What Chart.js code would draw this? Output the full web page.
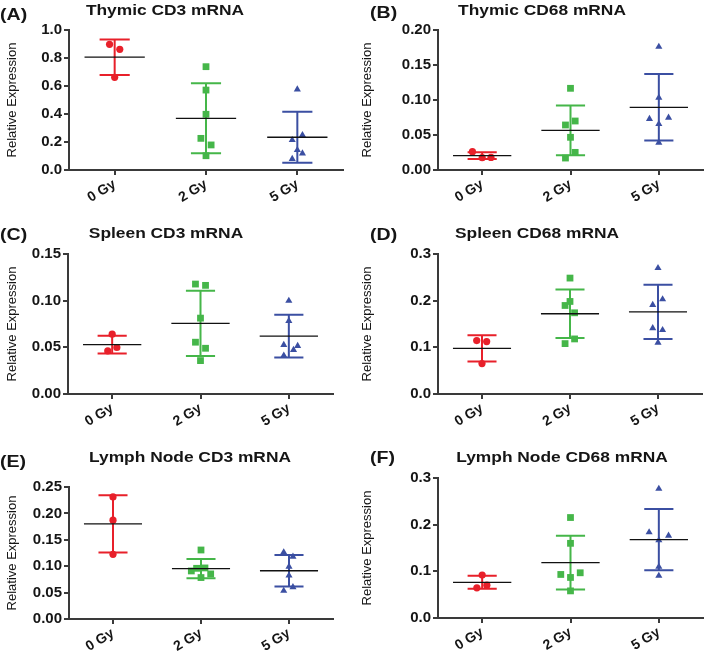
<!DOCTYPE html>
<html>
<head>
<meta charset="utf-8">
<title>Relative expression</title>
<script src="https://cdn.jsdelivr.net/npm/chart.js@4.4.0/dist/chart.umd.min.js"></script>
<style>
  body { margin: 0; background: #fff; width: 711px; height: 653px; position: relative; overflow: hidden; }
  canvas { position: absolute; }
</style>
</head>
<body>
<canvas id="chartA"></canvas>
<canvas id="chartB"></canvas>
<canvas id="chartC"></canvas>
<canvas id="chartD"></canvas>
<canvas id="chartE"></canvas>
<canvas id="chartF"></canvas>
<script>
// categories / labels
const categories = ['0 Gy', '2 Gy', '5 Gy'];
const panelLetters = ['(A)', '(B)', '(C)', '(D)', '(E)', '(F)'];
const panelTitles = ['Thymic CD3 mRNA', 'Thymic CD68 mRNA', 'Spleen CD3 mRNA',
                     'Spleen CD68 mRNA', 'Lymph Node CD3 mRNA', 'Lymph Node CD68 mRNA'];

// y axis ticks per panel
const yMax = [1.0, 0.20, 0.15, 0.3, 0.25, 0.3];
const yStep = [0.2, 0.05, 0.05, 0.1, 0.05, 0.1];
const yDecimals = [1, 2, 2, 1, 2, 1];

// individual values, one list per group (0 Gy, 2 Gy, 5 Gy)
const thymicCD3 = [
  [0.898, 0.862, 0.662],
  [0.738, 0.571, 0.398, 0.226, 0.179, 0.102],
  [0.576, 0.250, 0.214, 0.143, 0.119, 0.079]
];
const thymicCD68 = [
  [0.0262, 0.0176, 0.0180],
  [0.1167, 0.0700, 0.0643, 0.0467, 0.0252, 0.0171],
  [0.176, 0.1033, 0.0748, 0.0729, 0.0657, 0.039]
];
const spleenCD3 = [
  [0.0641, 0.0498, 0.0462],
  [0.1178, 0.1164, 0.0813, 0.0555, 0.0490, 0.0358],
  [0.0999, 0.0784, 0.0526, 0.0516, 0.0473, 0.0412]
];
const spleenCD68 = [
  [0.1145, 0.1124, 0.0651],
  [0.2484, 0.1983, 0.1897, 0.174, 0.118, 0.108],
  [0.270, 0.203, 0.191, 0.141, 0.137, 0.110]
];
const lymphCD3 = [
  [0.2312, 0.1872, 0.1225],
  [0.1307, 0.0967, 0.0960, 0.0910, 0.0854, 0.0785],
  [0.1263, 0.1180, 0.0992, 0.0823, 0.0603, 0.0534]
];
const lymphCD68 = [
  [0.0919, 0.0703, 0.0646],
  [0.2153, 0.160, 0.0969, 0.0933, 0.0869, 0.0581],
  [0.277, 0.1838, 0.1766, 0.1665, 0.1098, 0.0905]
];

// horizontal scatter of the dots, in category units
const thymicCD3Jitter = [[-0.056, 0.056, 0], [0, 0, 0, -0.056, 0.056, 0], [0, 0.056, -0.056, 0, 0.056, -0.056]];
const thymicCD68Jitter = [[-0.11, 0, 0.10], [0, 0.053, -0.057, 0, 0.053, -0.057], [0, 0, 0.11, -0.106, 0, 0]];
const spleenCD3Jitter = [[0, 0.053, -0.05], [-0.057, 0.057, 0, -0.057, 0.057, 0], [0, 0, -0.057, 0.1, 0.053, -0.057]];
const spleenCD68Jitter = [[-0.06, 0.053, 0], [0, 0, -0.056, 0.052, 0.052, -0.056], [0, 0.052, -0.06, -0.06, 0.052, 0]];
const lymphCD3Jitter = [[0, 0, 0], [0, 0.045, -0.05, -0.11, 0.11, 0], [-0.06, 0.045, 0, 0, 0.045, -0.06]];
const lymphCD68Jitter = [[0, 0.053, -0.06], [0, 0, 0.11, -0.11, 0, 0], [0, -0.11, 0.11, 0, 0, 0]];

// mean and SD per group as plotted
const thymicCD3Mean = [0.806, 0.369, 0.234];
const thymicCD3SD = [0.127, 0.250, 0.182];
const thymicCD68Mean = [0.0205, 0.0565, 0.0895];
const thymicCD68SD = [0.0048, 0.0355, 0.0475];
const spleenCD3Mean = [0.0530, 0.0757, 0.0620];
const spleenCD3SD = [0.0095, 0.0349, 0.0228];
const spleenCD68Mean = [0.0977, 0.172, 0.176];
const spleenCD68SD = [0.0283, 0.052, 0.058];
const lymphCD3Mean = [0.180, 0.0955, 0.0914];
const lymphCD3SD = [0.0542, 0.0182, 0.0298];
const lymphCD68Mean = [0.0765, 0.1185, 0.168];
const lymphCD68SD = [0.014, 0.0575, 0.0657];

const groupColors = ['#e8202a', '#45b649', '#3b4fa2'];
const groupShapes = ['circle', 'rect', 'triangle'];
const groupRadius = [3.6, 4.8, 4.1];
const axisColor = '#3a3a3a';
const textColor = '#151515';
const fontFamily = '"Liberation Sans", Arial, sans-serif';

// canvas placement and plot area (canvas-local) for each panel
const layouts = [
  { x: 0,   y: 0,   w: 355, h: 215, left: 69, right: 343, top: 30, bottom: 170, tx: 165, ty: 15, lx: 0,  ly: 20 },
  { x: 355, y: 0,   w: 356, h: 215, left: 83, right: 348, top: 30, bottom: 170, tx: 187, ty: 15, lx: 15, ly: 18 },
  { x: 0,   y: 215, w: 355, h: 220, left: 68, right: 333, top: 39, bottom: 179, tx: 166, ty: 23, lx: 0,  ly: 25 },
  { x: 355, y: 215, w: 356, h: 220, left: 83, right: 347, top: 39, bottom: 179, tx: 182, ty: 23, lx: 15, ly: 25 },
  { x: 0,   y: 435, w: 355, h: 218, left: 69, right: 333, top: 52, bottom: 184, tx: 190, ty: 27, lx: 0,  ly: 32 },
  { x: 355, y: 435, w: 356, h: 218, left: 83, right: 348, top: 43, bottom: 183, tx: 207, ty: 27, lx: 15, ly: 28 }
];

const panelValues = [thymicCD3, thymicCD68, spleenCD3, spleenCD68, lymphCD3, lymphCD68];
const panelJitter = [thymicCD3Jitter, thymicCD68Jitter, spleenCD3Jitter, spleenCD68Jitter, lymphCD3Jitter, lymphCD68Jitter];
const panelMeans = [thymicCD3Mean, thymicCD68Mean, spleenCD3Mean, spleenCD68Mean, lymphCD3Mean, lymphCD68Mean];
const panelSDs = [thymicCD3SD, thymicCD68SD, spleenCD3SD, spleenCD68SD, lymphCD3SD, lymphCD68SD];

// SD bars + mean line
const errorBarPlugin = {
  id: 'errorBars',
  beforeDatasetsDraw(chart, args, opts) {
    const { ctx, scales: { x, y } } = chart;
    ctx.save();
    ctx.lineWidth = 2;
    opts.means.forEach((m, i) => {
      const sd = opts.sds[i];
      const cx = x.getPixelForValue(i);
      const yTop = y.getPixelForValue(m + sd);
      const yBot = y.getPixelForValue(m - sd);
      const c0 = x.getPixelForValue(i - 0.165);
      const c1 = x.getPixelForValue(i + 0.165);
      ctx.strokeStyle = groupColors[i];
      ctx.beginPath();
      ctx.moveTo(cx, yTop); ctx.lineTo(cx, yBot);
      ctx.moveTo(c0, yTop); ctx.lineTo(c1, yTop);
      ctx.moveTo(c0, yBot); ctx.lineTo(c1, yBot);
      ctx.stroke();
    });
    ctx.restore();
  },
  afterDatasetsDraw(chart, args, opts) {
    const { ctx, scales: { x, y } } = chart;
    ctx.save();
    ctx.lineWidth = 1.3;
    ctx.strokeStyle = '#111';
    opts.means.forEach((m, i) => {
      const yy = y.getPixelForValue(m);
      ctx.beginPath();
      ctx.moveTo(x.getPixelForValue(i - 0.33), yy);
      ctx.lineTo(x.getPixelForValue(i + 0.33), yy);
      ctx.stroke();
    });
    ctx.restore();
  }
};

// panel letter and title (the figure's lettering is a bit wide, so stretch it)
const headingPlugin = {
  id: 'heading',
  afterDraw(chart, args, opts) {
    const ctx = chart.ctx;
    ctx.save();
    ctx.fillStyle = textColor;
    ctx.textBaseline = 'alphabetic';

    ctx.save();
    ctx.translate(opts.lx, opts.ly);
    ctx.scale(1.15, 1);
    ctx.textAlign = 'left';
    ctx.font = 'bold 17px ' + fontFamily;
    ctx.fillText(opts.letter, 0, 0);
    ctx.restore();

    ctx.translate(opts.tx, opts.ty);
    ctx.scale(1.24, 1);
    ctx.textAlign = 'center';
    ctx.font = 'bold 14px ' + fontFamily;
    ctx.fillText(opts.title, 0, 0);
    ctx.restore();
  }
};

function buildPanel(p) {
  const L = layouts[p];
  const canvas = document.getElementById('chart' + 'ABCDEF'[p]);
  canvas.width = L.w;
  canvas.height = L.h;
  canvas.style.left = L.x + 'px';
  canvas.style.top = L.y + 'px';
  canvas.style.width = L.w + 'px';
  canvas.style.height = L.h + 'px';

  const datasets = categories.map((cat, i) => ({
    label: cat,
    data: panelValues[p][i].map((v, k) => ({ x: i + panelJitter[p][i][k], y: v })),
    pointStyle: groupShapes[i],
    pointRadius: groupRadius[i],
    pointHoverRadius: groupRadius[i],
    backgroundColor: groupColors[i],
    borderColor: groupColors[i],
    borderWidth: 0
  }));

  const axisGrid = {
    display: true, drawOnChartArea: false, drawTicks: true,
    tickLength: 5, color: axisColor, lineWidth: 2
  };
  const axisBorder = { display: true, color: axisColor, width: 2 };

  return new Chart(canvas.getContext('2d'), {
    type: 'scatter',
    data: { datasets },
    options: {
      responsive: false,
      animation: false,
      devicePixelRatio: 1,
      layout: { padding: { top: L.top, right: L.w - L.right, left: 0, bottom: 0 } },
      plugins: {
        legend: { display: false },
        tooltip: { enabled: false },
        errorBars: { means: panelMeans[p], sds: panelSDs[p] },
        heading: { letter: panelLetters[p], title: panelTitles[p], tx: L.tx, ty: L.ty, lx: L.lx, ly: L.ly }
      },
      scales: {
        x: {
          type: 'linear',
          min: -0.5,
          max: 2.5,
          afterBuildTicks: s => { s.ticks = categories.map((c, i) => ({ value: i })); },
          afterFit: s => { s.height = L.h - L.bottom; },
          ticks: {
            callback: v => categories[v],
            minRotation: 31,
            maxRotation: 31,
            autoSkip: false,
            padding: 1,
            color: textColor,
            font: { family: fontFamily, size: 14, weight: 'bold' }
          },
          grid: axisGrid,
          border: axisBorder
        },
        y: {
          type: 'linear',
          min: 0,
          max: yMax[p],
          afterFit: s => { s.width = L.left; },
          ticks: {
            stepSize: yStep[p],
            callback: v => v.toFixed(yDecimals[p]),
            padding: 2,
            color: textColor,
            font: { family: fontFamily, size: 15, weight: 'bold' }
          },
          grid: axisGrid,
          border: axisBorder,
          title: {
            display: true,
            text: 'Relative Expression',
            color: textColor,
            font: { family: fontFamily, size: 13 },
            padding: { top: 5, bottom: 0 }
          }
        }
      }
    },
    plugins: [errorBarPlugin, headingPlugin]
  });
}

for (let p = 0; p < 6; p++) buildPanel(p);
</script>
</body>
</html>
